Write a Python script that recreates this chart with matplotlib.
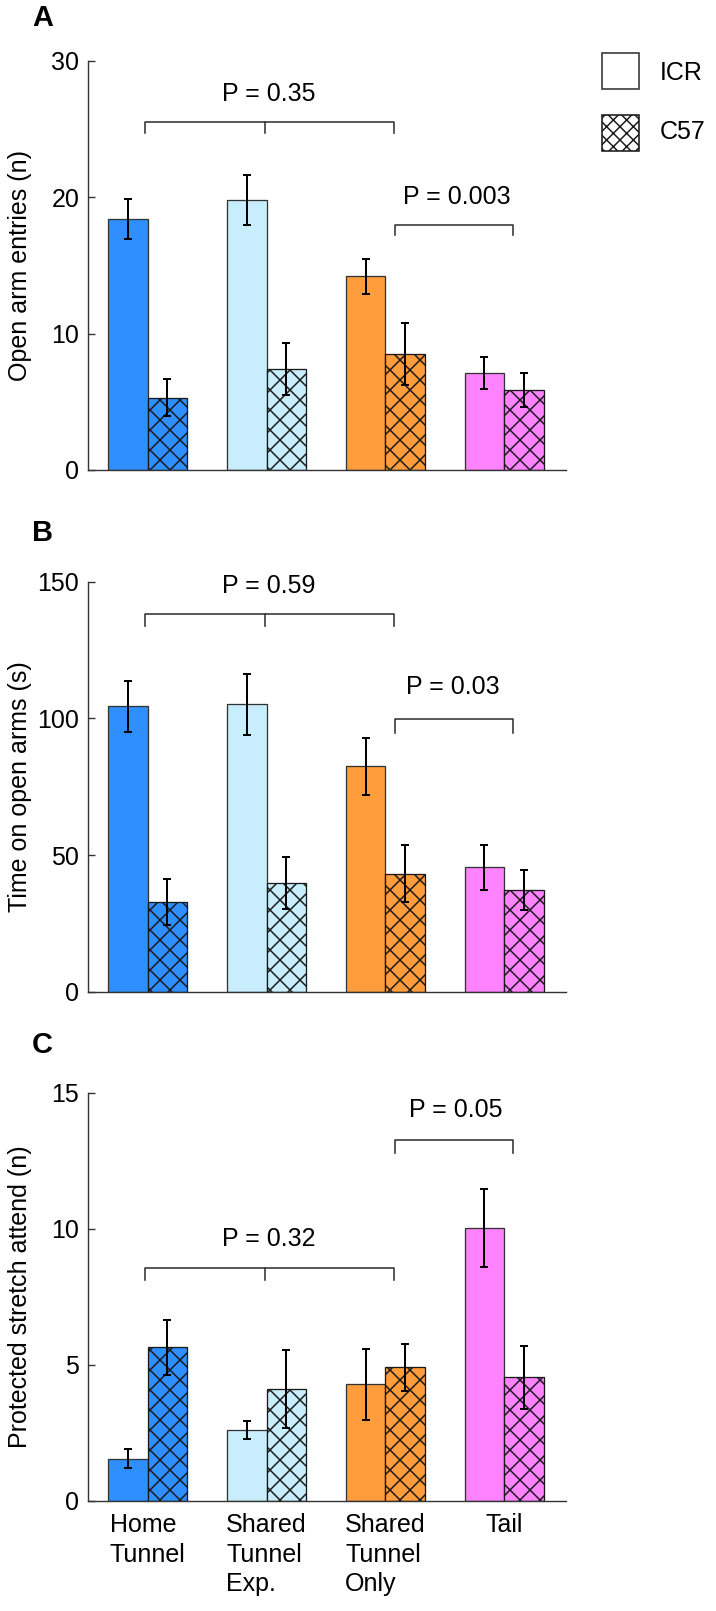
import numpy as np
import matplotlib
matplotlib.use("Agg")
import matplotlib.pyplot as plt
from matplotlib.patches import Rectangle

DPI = 120


def px(v):
    # pixel size -> points at the output dpi
    return v * 72 / DPI


plt.rcParams['font.family'] = ['Liberation Sans', 'DejaVu Sans']
plt.rcParams['hatch.linewidth'] = px(1.5)

# data (mean and s.e.m.)
groups = ['Home\nTunnel', 'Shared\nTunnel\nExp.', 'Shared\nTunnel\nOnly', 'Tail']
group_colors = ['#2F8FFF', '#C8EEFD', '#FF9C3B', '#FF82FF']

entries_icr = [18.4, 19.8, 14.2, 7.1]
entries_icr_err = [1.45, 1.85, 1.3, 1.2]
entries_c57 = [5.3, 7.4, 8.5, 5.85]
entries_c57_err = [1.37, 1.93, 2.27, 1.25]

time_icr = [104.5, 105.2, 82.5, 45.5]
time_icr_err = [9.3, 11.2, 10.5, 8.2]
time_c57 = [32.8, 39.7, 43.2, 37.2]
time_c57_err = [8.3, 9.6, 10.4, 7.4]

stretch_icr = [1.56, 2.61, 4.29, 10.03]
stretch_icr_err = [0.35, 0.33, 1.3, 1.44]
stretch_c57 = [5.64, 4.11, 4.91, 4.55]
stretch_c57_err = [1.0, 1.43, 0.87, 1.16]

# p-value brackets: (legs x, bar y, leg bottom y, text, text x, text y)
brackets_a = [([-0.02, 0.99, 2.07], 25.55, 24.7, 'P = 0.35', 1.02, 27.6),
              ([2.08, 3.07], 18.0, 17.2, 'P = 0.003', 2.6, 20.0)]
brackets_b = [([-0.02, 0.99, 2.07], 138.2, 133.9, 'P = 0.59', 1.02, 148.4),
              ([2.08, 3.07], 99.6, 94.7, 'P = 0.03', 2.57, 111.5)]
brackets_c = [([-0.02, 0.99, 2.07], 8.57, 8.11, 'P = 0.32', 1.02, 9.63),
              ([2.08, 3.07], 13.27, 12.8, 'P = 0.05', 2.59, 14.35)]

W, H = 716, 1611
fig = plt.figure(figsize=(W / DPI, H / DPI), dpi=DPI)
fs = px(25)

panels = [
    ('A', [0.1233, 0.7083, 0.6672, 0.2539], entries_icr, entries_icr_err, entries_c57, entries_c57_err,
     [0, 10, 20, 30], 'Open arm entries (n)', brackets_a, 17.5),
    ('B', [0.1233, 0.3844, 0.6672, 0.2545], time_icr, time_icr_err, time_c57, time_c57_err,
     [0, 50, 100, 150], 'Time on open arms (s)', brackets_b, 533),
    ('C', [0.1233, 0.0683, 0.6672, 0.2534], stretch_icr, stretch_icr_err, stretch_c57, stretch_c57_err,
     [0, 5, 10, 15], 'Protected stretch attend (n)', brackets_c, 1045),
]

x = np.arange(len(groups))
w = 0.333
for letter, rect, icr, icr_err, c57, c57_err, yt, ylab, brackets, label_y in panels:
    ax = fig.add_axes(rect)
    ax.bar(x - w / 2, icr, w, color=group_colors, edgecolor='#333333', linewidth=px(1.3), zorder=2)
    ax.bar(x + w / 2, c57, w, color=group_colors, edgecolor='#1a1a1a', linewidth=px(1.3),
           hatch='xx', zorder=2)
    for xs, ys, es in [(x - w / 2, icr, icr_err), (x + w / 2, c57, c57_err)]:
        ax.errorbar(xs, ys, yerr=es, fmt='none', ecolor='k', elinewidth=px(2),
                    capsize=px(4.4), capthick=px(2), zorder=3)

    for legs, ytop, ylow, txt, tx, ty in brackets:
        ax.plot([legs[0], legs[0], legs[-1], legs[-1]], [ylow, ytop, ytop, ylow],
                color='#333333', lw=px(1.6), zorder=4)
        if len(legs) == 3:
            ax.plot([legs[1], legs[1]], [ytop, ylow], color='#333333', lw=px(1.6), zorder=4)
        ax.text(tx, ty, txt, fontsize=fs, ha='center', va='center')

    ax.set_xlim(-0.5, 3.52)
    ax.set_ylim(yt[0], yt[-1])
    ax.set_yticks(yt)
    for s in ['top', 'right']:
        ax.spines[s].set_visible(False)
    for s in ['left', 'bottom']:
        ax.spines[s].set_linewidth(px(1.4))
        ax.spines[s].set_color('#333333')
    ax.tick_params(axis='y', direction='in', length=px(7), width=px(1.4), color='#333333',
                   labelsize=fs, pad=px(9))
    ax.tick_params(axis='x', length=0, labelsize=fs, pad=px(12.5))
    if letter == 'C':
        ax.set_xticks(x)
        ax.set_xticklabels(groups, multialignment='left', linespacing=1.28)
    else:
        ax.set_xticks([])
    ax.set_ylabel(ylab, fontsize=fs)
    ax.yaxis.set_label_coords(-0.118, 0.5)

    fig.text(32 / W, 1 - label_y / H, letter, fontsize=px(29), fontweight='bold',
             ha='left', va='center')

# legend boxes
fig.add_artist(Rectangle((601.7 / W, 1 - 89 / H), 37.6 / W, 35.7 / H, transform=fig.transFigure,
                         facecolor='white', edgecolor='#333333', lw=px(1.6)))
fig.add_artist(Rectangle((601.7 / W, 1 - 150.7 / H), 37.6 / W, 35.7 / H, transform=fig.transFigure,
                         facecolor='white', edgecolor='#1a1a1a', lw=px(1.6), hatch='xxx'))
fig.text(660 / W, 1 - 73.3 / H, 'ICR', fontsize=fs, ha='left', va='center')
fig.text(660 / W, 1 - 131.7 / H, 'C57', fontsize=fs, ha='left', va='center')

fig.savefig('out.png', dpi=DPI)
